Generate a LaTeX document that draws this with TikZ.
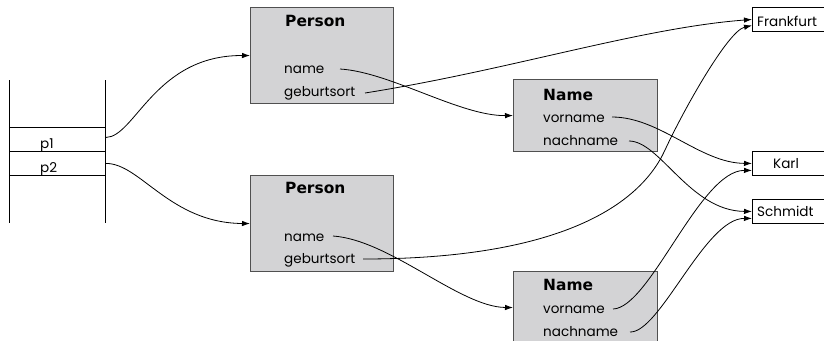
\documentclass[tikz,border=0pt]{standalone}
\usepackage{fontspec}
\setmainfont{Poppins}
\newfontfamily\hdrfont{DejaVu Sans}
\usetikzlibrary{arrows.meta}
\definecolor{boxfill}{RGB}{211,211,213}
\definecolor{boxedge}{RGB}{80,80,80}
\tikzset{
  objbox/.style={draw=boxedge, fill=boxfill, line width=1.1bp, anchor=north west, inner sep=0, minimum width=143bp},
  valbox/.style={draw=black, fill=white, line width=0.9bp, anchor=north west, inner sep=0, minimum width=90bp, minimum height=24bp},
  cell/.style={draw=black, line width=0.9bp, anchor=north west, inner sep=0, minimum width=96bp, minimum height=24bp},
  lbl/.style={inner sep=0, anchor=base west, font=\fontsize{13.6}{16}\selectfont},
  hdr/.style={inner sep=0, anchor=base west, font=\hdrfont\bfseries\fontsize{15.5}{18}\selectfont},
  link/.style={line width=0.8bp, -{Latex[length=8bp,width=5.5bp]}},
}
\begin{document}
\begin{tikzpicture}[x=1bp,y=-1bp]
\useasboundingbox (0,0) rectangle (824,340);
\clip (0,0) rectangle (824,340);
% stack
\draw[line width=0.9bp] (9,80) -- (9,223);
\draw[line width=0.9bp] (105,80) -- (105,223);
\node[cell] (c1) at (9,127) {};
\node[cell] (c2) at (9,151) {};
\node[lbl] (tp1) at (40,148) {p1};
\node[lbl] (tp2) at (40,172) {p2};
% object boxes
\node[objbox, minimum height=96bp] (P1) at (250,7) {};
\node[objbox, minimum height=96bp] (P2) at (250,175) {};
\node[objbox, minimum width=144bp, minimum height=72bp] (N1) at (513,79) {};
\node[objbox, minimum width=144bp, minimum height=72bp] (N2) at (513,271) {};
% value boxes
\node[valbox] (F) at (752,7) {};
\node[valbox] (K) at (752,151) {};
\node[valbox] (S) at (752,199) {};
% texts
\node[hdr] (h1) at (285,26) {Person};
\node[hdr] (h2) at (285,193) {Person};
\node[lbl] (n1) at (284,73) {name};
\node[lbl] (g1) at (284,96) {geburtsort};
\node[lbl] (n2) at (284,241) {name};
\node[lbl] (g2) at (284,263) {geburtsort};
\node[hdr] (h3) at (543,100) {Name};
\node[hdr] (h4) at (543,290) {Name};
\node[lbl] (v1) at (543,122) {vorname};
\node[lbl] (m1) at (543,145) {nachname};
\node[lbl] (v2) at (543,313) {vorname};
\node[lbl] (m2) at (543,336) {nachname};
\node[lbl] (tf) at (757,26) {Frankfurt};
\node[lbl] (tk) at (773,168) {Karl};
\node[lbl] (ts) at (757,216) {Schmidt};
% connector start points
\coordinate (sn1) at (340,69);
\coordinate (sg1) at (365,93);
\coordinate (sn2) at (333,236);
\coordinate (sg2) at (363,259);
\coordinate (sv1) at (612,117);
\coordinate (sm1) at (629,141);
\coordinate (sv2) at (613,309);
\coordinate (sm2) at (630,332);
% connectors
\draw[link] ([yshift=2bp]c1.east) .. controls (135,137) and (155,55) .. (P1.west);
\draw[link] (c2.east) .. controls (140,163) and (170,223) .. (P2.west);
\draw[link] (sn1) .. controls (390,72) and (460,116) .. (N1.west);
\draw[link] (sg1) .. controls (510,70) and (640,28) .. (F.west);
\draw[link] (sn2) .. controls (390,240) and (460,307) .. (N2.west);
\draw[link] (sg2) .. controls (560,259) and (640,205) .. (665,150) .. controls (684,109) and (728,31) .. ([yshift=-6bp]F.west);
\draw[link] (sv1) .. controls (660,117) and (700,163) .. (K.west);
\draw[link] (sm1) .. controls (660,141) and (690,211) .. (S.west);
\draw[link] (sv2) .. controls (650,308) and (700,170) .. ([yshift=-7bp]K.west);
\draw[link] (sm2) .. controls (660,333) and (705,218) .. ([yshift=-7bp]S.west);
\end{tikzpicture}
\end{document}
